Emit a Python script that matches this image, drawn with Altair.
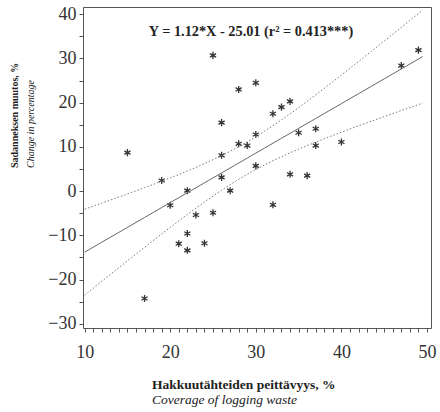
import altair as alt
import numpy as np
import pandas as pd

# ---- data ----
coverage = [15, 17, 19, 20, 21, 22, 22, 22, 23, 24, 25, 25, 26, 26, 26, 27, 28, 28,
            29, 30, 30, 30, 32, 32, 33, 34, 34, 35, 36, 37, 37, 40, 47, 49]
change = [8.7, -24.3, 2.4, -3.2, -11.9, 0.1, -9.6, -13.4, -5.4, -11.8, -4.9, 30.7,
          15.5, 8.1, 3.1, 0.1, 10.7, 23.0, 10.3, 12.8, 5.7, 24.5, 17.5, -3.1, 19.0,
          20.3, 3.8, 13.2, 3.5, 14.1, 10.3, 11.1, 28.4, 31.9]

slope, intercept = 1.12, -25.01
equation = ["Y = 1.12*X - 25.01 (r\u00b2 = 0.413***)"]
x_title = ["Hakkuutähteiden peittävyys, %", "Coverage of logging waste"]
y_title = ["Sadanneksen muutos, %", "Change in percentage"]
x_ticks = list(range(10, 51))
y_ticks = list(range(-30, 41, 5))

# ---- regression line and 95% confidence band of the mean ----
xa = np.array(coverage, dtype=float)
ya = np.array(change, dtype=float)
n = len(xa)
resid = ya - (slope * xa + intercept)
s = np.sqrt((resid ** 2).sum() / (n - 2))
t_crit = 2.037
xbar = xa.mean()
sxx = ((xa - xbar) ** 2).sum()
xg = np.linspace(10, 49.5, 80)
yhat = slope * xg + intercept
hw = t_crit * s * np.sqrt(1 / n + (xg - xbar) ** 2 / sxx)

pts = pd.DataFrame({"x": coverage, "y": change})
fit = pd.DataFrame({"x": xg, "y": yhat})
band = pd.concat([
    pd.DataFrame({"x": xg, "y": yhat + hw, "k": "upper"}),
    pd.DataFrame({"x": xg, "y": yhat - hw, "k": "lower"}),
])

W, H = 348, 321
xs = alt.Scale(domain=[9.81, 50.47], nice=False, zero=False)
ys = alt.Scale(domain=[-30.97, 41.65], nice=False, zero=False)

lab = dict(labelFont="Liberation Serif", labelFontSize=18, labelColor="#333",
           tickColor="#555", tickWidth=1, ticks=True, domain=False, grid=False, title=None,
           labelOverlap=False, labelFlush=False, labelBound=False)
xaxis = alt.Axis(values=x_ticks, tickSize=4, labelPadding=11,
                 labelExpr="datum.value % 10 === 0 ? datum.label : ''", **lab)
yaxis = alt.Axis(values=y_ticks, tickSize=4, labelPadding=3,
                 labelExpr="datum.value % 10 === 0 ? datum.label : ''", **lab)

X = alt.X("x:Q", scale=xs, axis=xaxis)
Y = alt.Y("y:Q", scale=ys, axis=yaxis)

asterisk = "M0,-1L0,1M-0.866,-0.5L0.866,0.5M-0.866,0.5L0.866,-0.5"

points = alt.Chart(pts).mark_point(shape=asterisk, size=50, filled=False,
                                   strokeWidth=1.3, color="#333", opacity=1).encode(x=X, y=Y)
fitline = alt.Chart(fit).mark_line(color="#666", strokeWidth=1).encode(x=X, y=Y)
bands = alt.Chart(band).mark_line(color="#777", strokeWidth=1, strokeDash=[1.5, 2]).encode(
    x=X, y=Y, detail="k:N")

eq = alt.Chart(pd.DataFrame({"t": equation})).mark_text(
    font="Liberation Serif", fontSize=14.3, fontWeight="bold", color="#222",
    align="center", baseline="middle").encode(
    text="t:N", x=alt.value(168), y=alt.value(25))

xt1 = alt.Chart(pd.DataFrame({"t": x_title[:1]})).mark_text(
    font="Liberation Serif", fontSize=13.5, fontWeight="bold", color="#222",
    align="left", baseline="alphabetic").encode(
    text="t:N", x=alt.value(69), y=alt.value(382))
xt2 = alt.Chart(pd.DataFrame({"t": x_title[1:]})).mark_text(
    font="Liberation Serif", fontSize=13.5, fontStyle="italic", color="#222",
    align="left", baseline="alphabetic").encode(
    text="t:N", x=alt.value(69), y=alt.value(397))
yt1 = alt.Chart(pd.DataFrame({"t": y_title[:1]})).mark_text(
    font="Liberation Serif", fontSize=10, fontWeight="bold", color="#222",
    align="left", baseline="middle", angle=270).encode(
    text="t:N", x=alt.value(-68), y=alt.value(161))
yt2 = alt.Chart(pd.DataFrame({"t": y_title[1:]})).mark_text(
    font="Liberation Serif", fontSize=10, fontStyle="italic", color="#222",
    align="left", baseline="middle", angle=270).encode(
    text="t:N", x=alt.value(-52), y=alt.value(161))

chart = alt.layer(points, bands, fitline, eq, xt1, xt2, yt1, yt2).properties(
    width=W, height=H,
    autosize=alt.AutoSizeParams(type="none"),
    padding={"left": 83, "top": 7, "right": 9, "bottom": 84},
    background="white",
).configure_view(stroke="#555", strokeWidth=1)

chart.save("out.html", embed_options={"renderer": "svg", "actions": False})
